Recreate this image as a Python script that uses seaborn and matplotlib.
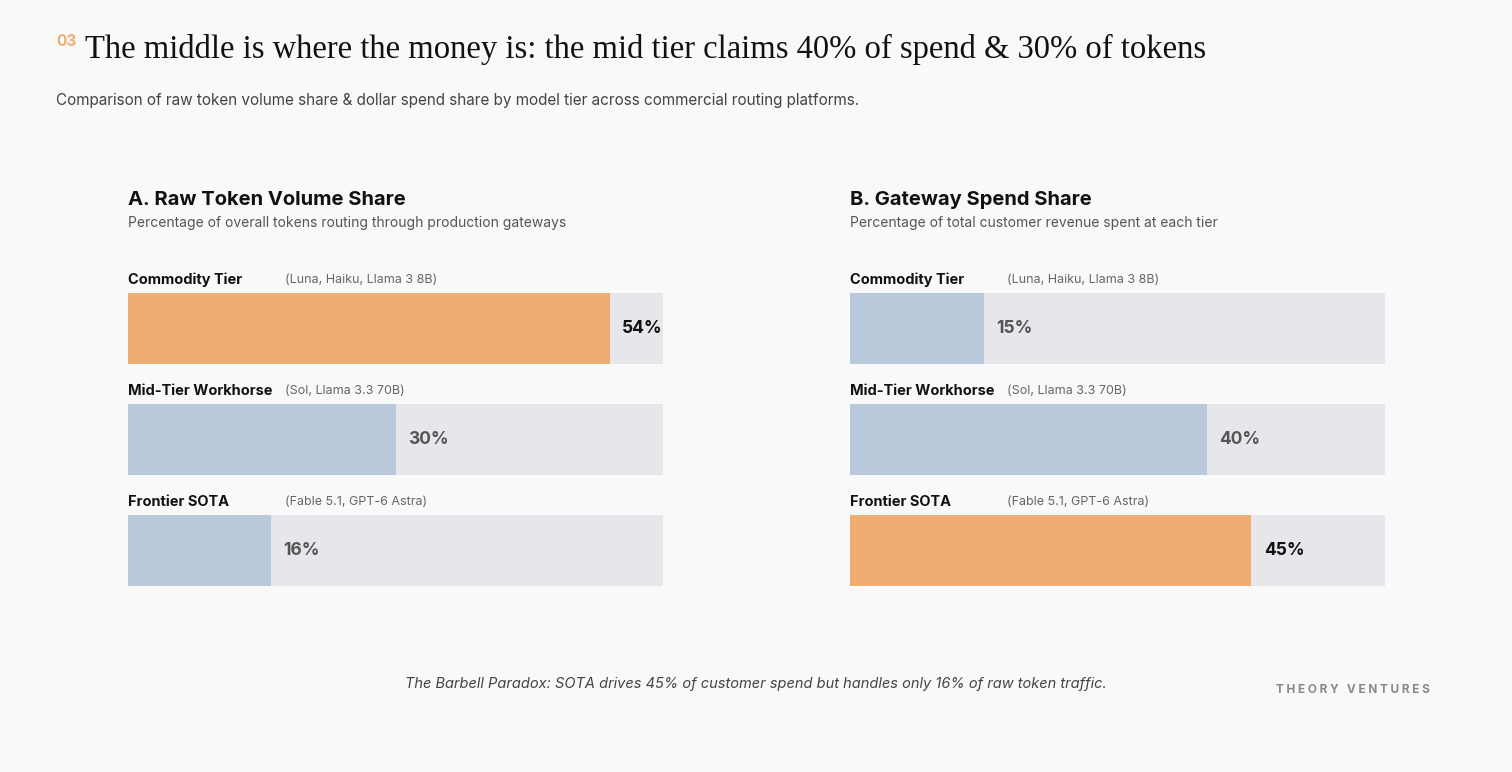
import matplotlib.pyplot as plt
import seaborn as sns
import pandas as pd

tiers = ["Commodity Tier", "Mid-Tier Workhorse", "Frontier SOTA"]
models = ["(Luna, Haiku, Llama 3 8B)", "(Sol, Llama 3.3 70B)", "(Fable 5.1, GPT-6 Astra)"]
token_share = [54, 30, 16]
spend_share = [15, 40, 45]
token_highlight = [True, False, False]
spend_highlight = [False, False, True]

W, H = 1512, 772
BG = "#f9f9f9"
ORANGE = "#f0ad73"
BLUE = "#b9c8da"
TRACK = "#e6e7ea"

sns.set_theme(style="white")
plt.rcParams["font.family"] = ["Inter", "DejaVu Sans"]

fig = plt.figure(figsize=(W / 100, H / 100), dpi=100, facecolor=BG)


def fx(px):
    return px / W


def fy(py):
    return 1 - py / H


# header
fig.text(fx(56), fy(42), "03", color=ORANGE, fontsize=11, fontweight="bold", va="center")
fig.text(fx(85), fy(49), "The middle is where the money is: the mid tier claims 40% of spend & 30% of tokens",
         family="Liberation Serif", fontsize=23.5, color="#111111", va="center")
fig.text(fx(56), fy(101), "Comparison of raw token volume share & dollar spend share by model tier across commercial routing platforms.",
         fontsize=11, color="#444444", va="center")

panels = [
    (128, "A. Raw Token Volume Share", "Percentage of overall tokens routing through production gateways",
     token_share, token_highlight),
    (850, "B. Gateway Spend Share", "Percentage of total customer revenue spent at each tier",
     spend_share, spend_highlight),
]

for left, title, sub, values, hl in panels:
    fig.text(fx(left), fy(200), title, fontsize=14.5, fontweight="bold", color="#111111", va="center")
    fig.text(fx(left), fy(223), sub, fontsize=10, color="#555555", va="center")

    ax = fig.add_axes([fx(left), fy(586), fx(535), 293 / H])
    ax.set_facecolor(BG)
    df = pd.DataFrame({"tier": tiers, "value": values, "track": [60] * len(tiers)})
    sns.barplot(data=df, y="tier", x="track", color=TRACK, saturation=1, width=0.64,
                linewidth=0, ax=ax, orient="h")
    colors = [ORANGE if h else BLUE for h in hl]
    sns.barplot(data=df, y="tier", x="value", hue="tier", palette=colors, saturation=1, width=0.64,
                linewidth=0, ax=ax, orient="h", legend=False)
    ax.set_xlim(0, 60)
    ax.set_ylim(2.32, -0.32)
    ax.axis("off")

    for i, (v, h) in enumerate(zip(values, hl)):
        ax.annotate(f"{v}%", (v, i), xytext=(9, 0), textcoords="offset points",
                    va="center", ha="left", fontsize=12.5, fontweight="bold",
                    color="#111111" if h else "#555555")
        ty = 280 + i * 111
        fig.text(fx(left), fy(ty), tiers[i], fontsize=10.5, fontweight="bold", color="#111111", va="center")
        fig.text(fx(left + 157), fy(ty), models[i], fontsize=9, color="#666666", va="center")

fig.text(0.5, fy(684), "The Barbell Paradox: SOTA drives 45% of customer spend but handles only 16% of raw token traffic.",
         fontsize=10.5, style="italic", color="#444444", ha="center", va="center")
fig.text(fx(1430), fy(690), "T H E O R Y   V E N T U R E S", fontsize=8.5, fontweight="bold",
         color="#888888", ha="right", va="center")

fig.savefig("out.png", dpi=100, facecolor=BG)
